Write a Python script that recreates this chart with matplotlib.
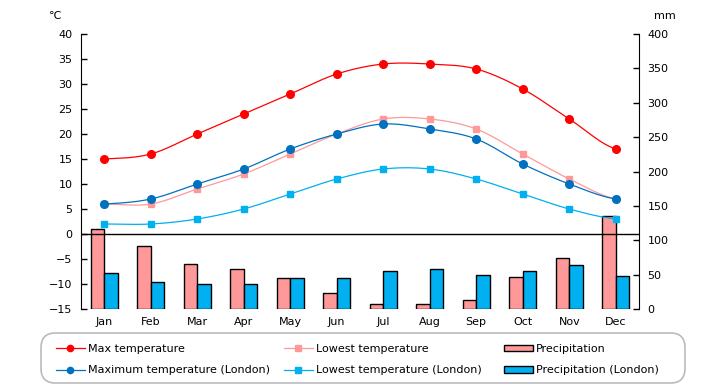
"""Climate chart: monthly temperatures and precipitation vs London."""
import numpy as np
import matplotlib
matplotlib.use("Agg")
import matplotlib.pyplot as plt
from matplotlib.lines import Line2D
from matplotlib.patches import Patch, FancyBboxPatch

months = ["Jan", "Feb", "Mar", "Apr", "May", "Jun",
          "Jul", "Aug", "Sep", "Oct", "Nov", "Dec"]
max_temp = [15, 16, 20, 24, 28, 32, 34, 34, 33, 29, 23, 17]
low_temp = [6, 6, 9, 12, 16, 20, 23, 23, 21, 16, 11, 7]
london_max = [6, 7, 10, 13, 17, 20, 22, 21, 19, 14, 10, 7]
london_low = [2, 2, 3, 5, 8, 11, 13, 13, 11, 8, 5, 3]
precip = [117, 91, 66, 58, 45, 24, 8, 8, 13, 47, 74, 136]
london_precip = [52, 39, 36, 37, 45, 45, 55, 58, 49, 56, 64, 48]

RED, PINK = "#ff0000", "#ff9999"
BLUE, LBLUE = "#0070c0", "#00b0f0"
plt.rcParams["font.family"] = ["DejaVu Sans"]
plt.rcParams["font.size"] = 8


def smooth(y, n=20):
    # Catmull-Rom curve through the points, like Excel's smoothed lines
    y = np.asarray(y, float)
    x = np.arange(len(y), dtype=float)
    px = np.concatenate([[2 * x[0] - x[1]], x, [2 * x[-1] - x[-2]]])
    py = np.concatenate([[y[0]], y, [y[-1]]])
    xs, ys = [], []
    t = np.linspace(0, 1, n, endpoint=False)
    for i in range(1, len(px) - 2):
        for arr, out in ((px, xs), (py, ys)):
            p0, p1, p2, p3 = arr[i - 1:i + 3]
            out.extend(0.5 * (2 * p1 + (-p0 + p2) * t
                              + (2 * p0 - 5 * p1 + 4 * p2 - p3) * t ** 2
                              + (-p0 + 3 * p1 - 3 * p2 + p3) * t ** 3))
    xs.append(x[-1]); ys.append(y[-1])
    return np.array(xs), np.array(ys)


fig = plt.figure(figsize=(7.2, 3.85), dpi=100)
ax = fig.add_axes([81 / 720, 1 - 309 / 385, 558 / 720, 275 / 385])
ax2 = ax.twinx()
ax.set_zorder(ax2.get_zorder() + 1)
ax.patch.set_visible(False)
ax2.set_facecolor("#ffffcc")

x = np.arange(len(months))
w = 0.29
ax2.bar(x - w / 2, precip, w, color=PINK, edgecolor="black", linewidth=1)
ax2.bar(x + w / 2, london_precip, w, color=LBLUE, edgecolor="black", linewidth=1)
ax2.set_ylim(0, 400)
ax2.set_yticks(range(0, 401, 50))

ax.axhline(0, color="black", linewidth=1, zorder=1)
series = [(max_temp, RED, "o", 5.5), (low_temp, PINK, "s", 5),
          (london_max, BLUE, "o", 5.5), (london_low, LBLUE, "s", 5)]
for vals, c, m, ms in series:
    sx, sy = smooth(vals)
    ax.plot(sx, sy, color=c, linewidth=0.9, zorder=2)
    ax.plot(x, vals, linestyle="none", marker=m, color=c,
            markersize=ms, zorder=3)

ax.set_xlim(-0.5, 11.5)
ax.set_ylim(-15, 40)
ax.set_yticks(range(-15, 41, 5))
ax.set_xticks(x)
ax.set_xticklabels(months)

for a in (ax, ax2):
    for s in ("top", "bottom"):
        a.spines[s].set_visible(False)
    a.spines["left"].set_visible(a is ax)
    a.spines["right"].set_visible(a is ax2)
    a.tick_params(axis="y", direction="in", length=4, width=1, pad=6)
    a.tick_params(axis="x", length=0, pad=6)

fig.text(55 / 720, 1 - 16 / 385, "\u2103", ha="center", va="center")
fig.text(665 / 720, 1 - 16 / 385, "mm", ha="center", va="center")

box = FancyBboxPatch((41 / 720, 1 - 383 / 385), 644 / 720, 50 / 385,
                     boxstyle="round,pad=0,rounding_size=0.02",
                     transform=fig.transFigure, facecolor="white",
                     edgecolor="#bbbbbb", linewidth=1.2, mutation_aspect=1.9)
fig.patches.append(box)

columns = [
    ([Line2D([], [], color=RED, lw=0.9, marker="o", markersize=4.5),
      Line2D([], [], color=BLUE, lw=0.9, marker="o", markersize=4.5)],
     ["Max temperature", "Maximum temperature (London)"], 46),
    ([Line2D([], [], color=PINK, lw=0.9, marker="s", markersize=4.5),
      Line2D([], [], color=LBLUE, lw=0.9, marker="s", markersize=4.5)],
     ["Lowest temperature", "Lowest temperature (London)"], 274),
    ([Patch(facecolor=PINK, edgecolor="black"),
      Patch(facecolor=LBLUE, edgecolor="black")],
     ["Precipitation", "Precipitation (London)"], 494),
]
for handles, labels, left in columns:
    leg = fig.legend(handles, labels, loc="center left",
                     bbox_to_anchor=(left / 720, 1 - 359.5 / 385),
                     frameon=False, handlelength=2.6, handleheight=0.5,
                     handletextpad=0.25, labelspacing=1.05, fontsize=8)

fig.savefig("out.png", dpi=100)
